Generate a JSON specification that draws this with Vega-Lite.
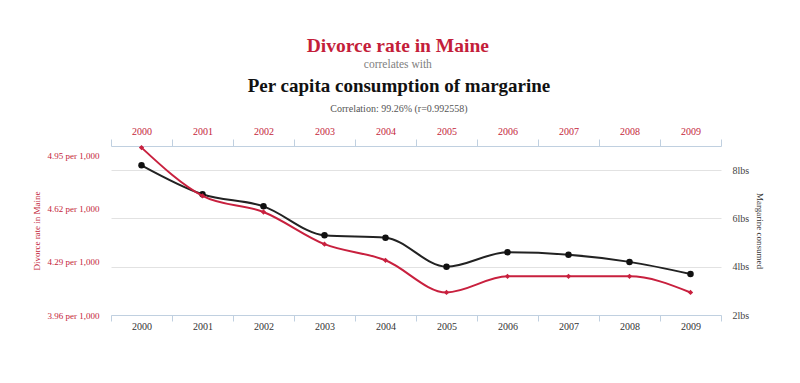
{
  "$schema": "https://vega.github.io/schema/vega-lite/v6.json",
  "background": "white",
  "padding": {"left": 32, "top": 36, "right": 5, "bottom": 5},
  "title": {
    "text": "Divorce rate in Maine",
    "subtitle": "correlates with",
    "font": "Liberation Serif",
    "fontSize": 19.5,
    "fontWeight": "bold",
    "color": "#C41E3A",
    "subtitleFont": "Liberation Serif",
    "subtitleFontSize": 11.5,
    "subtitleColor": "#808080",
    "subtitlePadding": 2,
    "anchor": "middle",
    "offset": 6
  },
  "data": {
    "values": [
      {"year": "2000", "divorce": 5.0, "margarine": 8.2},
      {"year": "2001", "divorce": 4.7, "margarine": 7.0},
      {"year": "2002", "divorce": 4.6, "margarine": 6.5},
      {"year": "2003", "divorce": 4.4, "margarine": 5.3},
      {"year": "2004", "divorce": 4.3, "margarine": 5.2},
      {"year": "2005", "divorce": 4.1, "margarine": 4.0},
      {"year": "2006", "divorce": 4.2, "margarine": 4.6},
      {"year": "2007", "divorce": 4.2, "margarine": 4.5},
      {"year": "2008", "divorce": 4.2, "margarine": 4.2},
      {"year": "2009", "divorce": 4.1, "margarine": 3.7}
    ]
  },
  "vconcat": [
    {
      "width": 610,
      "height": 169,
      "title": {
        "text": "Per capita consumption of margarine",
        "subtitle": "Correlation: 99.26% (r=0.992558)",
        "font": "Liberation Serif",
        "fontSize": 19,
        "fontWeight": "bold",
        "color": "#111111",
        "subtitleFont": "Liberation Serif",
        "subtitleFontSize": 10,
        "subtitleColor": "#555555",
        "subtitlePadding": 8,
        "anchor": "middle",
        "dx": -17,
        "offset": 12
      },
      "layer": [
        {
          "mark": {
            "type": "line",
            "color": "#222222",
            "strokeWidth": 2,
            "interpolate": "monotone",
            "point": {"filled": true, "shape": "circle", "size": 42, "color": "#111111"}
          },
          "encoding": {
            "x": {
              "field": "year",
              "type": "ordinal",
              "bandPosition": 0.5,
              "scale": {"type": "band", "paddingInner": 0, "paddingOuter": 0},
              "axis": {
                "orient": "bottom",
                "title": null,
                "labelAngle": 0,
                "labelColor": "#333333",
                "labelFont": "Liberation Serif",
                "labelFontSize": 10,
                "tickBand": "extent",
                "domainColor": "#C0D0E0",
                "tickColor": "#C0D0E0",
                "tickSize": 6,
                "labelPadding": 0,
                "grid": false
              }
            },
            "y": {
              "field": "margarine",
              "type": "quantitative",
              "scale": {"domain": [2, 9], "zero": false, "nice": false},
              "axis": {
                "orient": "right",
                "values": [2, 4, 6, 8],
                "labelExpr": "datum.value + 'lbs'",
                "labelColor": "#444444",
                "labelFont": "Liberation Serif",
                "labelFontSize": 10,
                "labelPadding": 11,
                "domain": false,
                "ticks": false,
                "grid": true,
                "gridColor": "#E2E2E2",
                "title": "Margarine consumed",
                "titleColor": "#333333",
                "titleFont": "Liberation Serif",
                "titleFontSize": 9,
                "titleFontWeight": "normal",
                "titlePadding": 6
              }
            }
          }
        },
        {
          "mark": {
            "type": "line",
            "color": "#C8203E",
            "strokeWidth": 2,
            "interpolate": "monotone",
            "point": {"filled": true, "shape": "diamond", "size": 28, "color": "#C8203E"}
          },
          "encoding": {
            "x": {
              "field": "year",
              "type": "ordinal",
              "bandPosition": 0.5,
              "scale": {"type": "band", "paddingInner": 0, "paddingOuter": 0},
              "axis": {
                "orient": "top",
                "title": null,
                "labelAngle": 0,
                "labelColor": "#C41E3A",
                "labelFont": "Liberation Serif",
                "labelFontSize": 10,
                "tickBand": "extent",
                "domainColor": "#C0D0E0",
                "tickColor": "#C0D0E0",
                "tickSize": 7,
                "labelPadding": 3,
                "grid": false
              }
            },
            "y": {
              "field": "divorce",
              "type": "quantitative",
              "scale": {"domain": [3.96, 5.01], "zero": false, "nice": false},
              "axis": {
                "orient": "left",
                "values": [3.96, 4.29, 4.62, 4.95],
                "labelExpr": "format(datum.value, '.2f') + ' per 1,000'",
                "labelColor": "#C41E3A",
                "labelFont": "Liberation Serif",
                "labelFontSize": 9,
                "labelPadding": 12,
                "domain": false,
                "ticks": false,
                "grid": false,
                "title": "Divorce rate in Maine",
                "titleColor": "#C41E3A",
                "titleFont": "Liberation Serif",
                "titleFontSize": 9,
                "titleFontWeight": "normal",
                "titlePadding": 6
              }
            }
          }
        }
      ],
      "resolve": {"scale": {"y": "independent"}, "axis": {"x": "independent", "y": "independent"}}
    }
  ],
  "config": {"view": {"stroke": null}, "font": "Liberation Serif"}
}
